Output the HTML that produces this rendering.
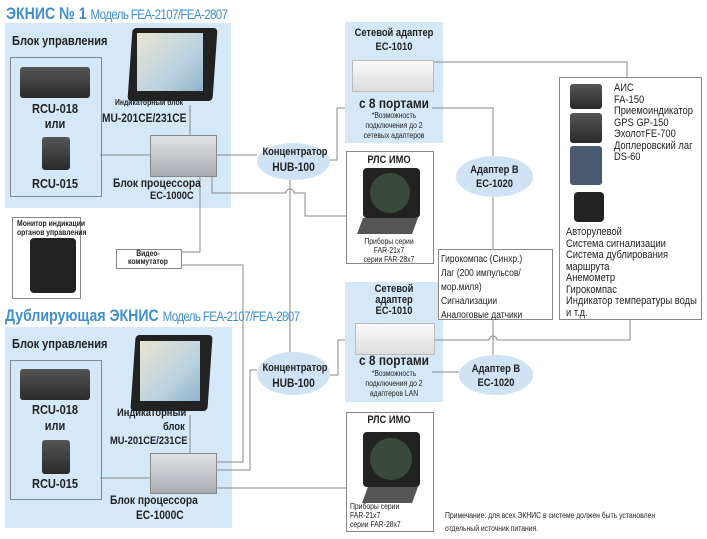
<!DOCTYPE html>
<html><head><meta charset="utf-8"><style>
body{margin:0;width:707px;height:539px;background:#fff;position:relative;overflow:hidden;font-family:"Liberation Sans",sans-serif;color:#222}
.a{position:absolute}
.panel{position:absolute;background:#d5e8f7}
.t{position:absolute;white-space:nowrap;font-size:11px;font-weight:bold;transform:scaleX(.85);transform-origin:left top}
.c{text-align:center;transform-origin:center top}
.s{font-size:8px;font-weight:normal}
.box{position:absolute;border:1px solid #888;background:#fff}
.ell{position:absolute;background:#cfe3f5;border-radius:50%}
.dev{position:absolute;background:linear-gradient(#555,#2a2a2a);border-radius:3px}
.mon{position:absolute;background:#222;border-radius:4px}
.scr{position:absolute;background:linear-gradient(135deg,#e8e4d0,#bcd3e0 60%,#8fb3cc)}
.proc{position:absolute;background:linear-gradient(#e0e2e4,#a9adb2);border:1px solid #888}
.norm{font-weight:normal;font-size:10px;line-height:12px}
.ttl{transform:scaleX(.83)}
.ttl span{font-weight:normal;font-size:14px;letter-spacing:-0.8px}
</style></head><body>
<div class="panel" style="left:5px;top:23px;width:226px;height:185px"></div>
<div class="panel" style="left:5px;top:327px;width:227px;height:201px"></div>
<div class="panel" style="left:345px;top:22px;width:98px;height:121px"></div>
<div class="panel" style="left:345px;top:282px;width:98px;height:120px"></div>

<svg class="a" style="left:0;top:0" width="707" height="539" fill="none" stroke="#8a8a8a" stroke-width="1">
<path d="M100 155H150M190 105V135M215 155H257M330 160H337V108H345M430 62H627V77M432 108H493V156M493 197V249"/>
<path d="M212 175V193H286A4 4 0 0 1 294 193H305V216H346"/>
<path d="M290 180V352"/>
<path d="M180 252H200V175M180 265H243V462H215"/>
<path d="M100 478H150M190 415V453M215 470H250V370H257M330 375H338V340H345M432 372H459M432 340H489A4 4 0 0 1 497 340H630V318M493 318V355M215 488H346"/>
</svg>

<div class="t ttl" style="left:6px;top:4px;font-size:17px;color:#3f8fd0">ЭКНИС № 1 <span>Модель FEA-2107/FEA-2807</span></div>
<div class="t" style="left:12px;top:33px;font-size:13px">Блок управления</div>
<div class="box" style="left:10px;top:57px;width:90px;height:138px;background:none"></div>
<div class="dev" style="left:20px;top:67px;width:70px;height:31px"></div>
<div class="t c" style="left:10px;width:90px;top:101px;font-size:13px">RCU-018</div>
<div class="t c" style="left:10px;width:90px;top:116px;font-size:13px">или</div>
<div class="dev" style="left:42px;top:137px;width:28px;height:33px"></div>
<div class="t c" style="left:10px;width:90px;top:176px;font-size:13px">RCU-015</div>
<div class="mon" style="left:130px;top:28px;width:85px;height:73px;transform:skewX(-4deg)"></div>
<div class="scr" style="left:137px;top:33px;width:66px;height:58px"></div>
<div class="t s" style="left:115px;top:98px;font-weight:bold">Индикаторный блок</div>
<div class="t" style="left:102px;top:111px;font-size:12px">MU-201CE/231CE</div>
<div class="proc" style="left:150px;top:135px;width:65px;height:40px"></div>
<div class="t" style="left:113px;top:176px;font-size:12px">Блок процессора</div>
<div class="t" style="left:150px;top:190px">EC-1000C</div>

<div class="ell" style="left:257px;top:143px;width:73px;height:37px"></div>
<div class="t c" style="left:257px;width:73px;top:146px;font-size:11px">Концентратор</div>
<div class="t c" style="left:257px;width:73px;top:160px;font-size:12px">HUB-100</div>

<div class="t c" style="left:345px;width:98px;top:27px">Сетевой адаптер</div>
<div class="t c" style="left:345px;width:98px;top:41px">EC-1010</div>
<div class="a" style="left:352px;top:60px;width:80px;height:30px;background:linear-gradient(#fafafa,#ddd);border:1px solid #bbb"></div>
<div class="t c" style="left:345px;width:98px;top:95px;font-size:14px">с 8 портами</div>
<div class="t c s" style="left:345px;width:98px;top:111px;line-height:10px;white-space:normal">*Возможность подключения до 2 сетевых адаптеров</div>

<div class="box" style="left:346px;top:151px;width:86px;height:111px"></div>
<div class="t c" style="left:346px;width:86px;top:154px">РЛС ИМО</div>
<div class="mon" style="left:363px;top:168px;width:57px;height:50px"></div>
<div class="a" style="left:370px;top:173px;width:40px;height:40px;border-radius:50%;background:#3a4a3a"></div>
<div class="a" style="left:360px;top:218px;width:55px;height:16px;background:#555;transform:skewX(-20deg)"></div>
<div class="t c s" style="left:346px;width:86px;top:237px;line-height:9px">Приборы серии<br>FAR-21x7<br>серии FAR-28x7</div>

<div class="ell" style="left:456px;top:156px;width:77px;height:41px"></div>
<div class="t c" style="left:456px;width:77px;top:164px">Адаптер B</div>
<div class="t c" style="left:456px;width:77px;top:178px">EC-1020</div>

<div class="box" style="left:438px;top:249px;width:113px;height:69px"></div>
<div class="t norm" style="left:441px;top:253px;line-height:14px">Гирокомпас (Синхр.)<br>Лаг (200 импульсов/<br>мор.миля)<br>Сигнализации<br>Аналоговые датчики</div>

<div class="box" style="left:559px;top:77px;width:141px;height:241px"></div>
<div class="dev" style="left:570px;top:84px;width:32px;height:25px"></div>
<div class="dev" style="left:570px;top:113px;width:32px;height:30px"></div>
<div class="dev" style="left:570px;top:146px;width:32px;height:39px;background:#4a5a70"></div>
<div class="mon" style="left:574px;top:192px;width:30px;height:30px"></div>
<div class="t norm" style="left:614px;top:83px;font-size:11px;line-height:11.5px">АИС<br>FA-150<br>Приемоиндикатор<br>GPS GP-150<br>ЭхолотFE-700<br>Доплеровский лаг<br>DS-60</div>
<div class="t norm" style="left:566px;top:227px;font-size:11px;line-height:11.5px">Авторулевой<br>Система сигнализации<br>Система дублирования<br>маршрута<br>Анемометр<br>Гирокомпас<br>Индикатор температуры воды<br>и т.д.</div>

<div class="box" style="left:12px;top:217px;width:67px;height:80px"></div>
<div class="t c s" style="left:12px;width:67px;top:219px;font-weight:bold;line-height:9px">Монитор индикации<br>органов управления</div>
<div class="mon" style="left:30px;top:238px;width:46px;height:55px"></div>
<div class="box" style="left:116px;top:249px;width:64px;height:18px"></div>
<div class="t c s" style="left:116px;width:64px;top:250px;font-weight:bold;line-height:8px">Видео-<br>коммутатор</div>

<div class="t ttl" style="left:5px;top:306px;font-size:17px;color:#3f8fd0">Дублирующая ЭКНИС <span>Модель FEA-2107/FEA-2807</span></div>
<div class="t" style="left:12px;top:336px;font-size:13px">Блок управления</div>
<div class="box" style="left:10px;top:360px;width:90px;height:138px;background:none"></div>
<div class="dev" style="left:20px;top:369px;width:70px;height:31px"></div>
<div class="t c" style="left:10px;width:90px;top:402px;font-size:13px">RCU-018</div>
<div class="t c" style="left:10px;width:90px;top:418px;font-size:13px">или</div>
<div class="dev" style="left:42px;top:440px;width:28px;height:34px"></div>
<div class="t c" style="left:10px;width:90px;top:476px;font-size:13px">RCU-015</div>
<div class="mon" style="left:133px;top:335px;width:77px;height:76px;transform:skewX(-4deg)"></div>
<div class="scr" style="left:140px;top:341px;width:60px;height:60px"></div>
<div class="t" style="left:117px;top:407px">Индикаторный</div>
<div class="t" style="left:163px;top:421px">блок</div>
<div class="t" style="left:110px;top:435px">MU-201CE/231CE</div>
<div class="proc" style="left:150px;top:453px;width:65px;height:39px"></div>
<div class="t" style="left:110px;top:493px;font-size:12px">Блок процессора</div>
<div class="t" style="left:136px;top:508px;font-size:12px">EC-1000C</div>

<div class="ell" style="left:257px;top:352px;width:73px;height:43px"></div>
<div class="t c" style="left:257px;width:73px;top:362px">Концентратор</div>
<div class="t c" style="left:257px;width:73px;top:376px;font-size:12px">HUB-100</div>

<div class="t c" style="left:345px;width:98px;top:284px;line-height:11px">Сетевой<br>адаптер<br>EC-1010</div>
<div class="a" style="left:355px;top:323px;width:78px;height:30px;background:linear-gradient(#fafafa,#ddd);border:1px solid #bbb"></div>
<div class="t c" style="left:345px;width:98px;top:352px;font-size:14px">с 8 портами</div>
<div class="t c s" style="left:345px;width:98px;top:369px;line-height:10px;white-space:normal">*Возможность подключения до 2 адаптеров LAN</div>

<div class="ell" style="left:459px;top:355px;width:74px;height:40px"></div>
<div class="t c" style="left:459px;width:74px;top:363px">Адаптер B</div>
<div class="t c" style="left:459px;width:74px;top:377px">EC-1020</div>

<div class="box" style="left:346px;top:412px;width:86px;height:118px"></div>
<div class="t c" style="left:346px;width:86px;top:414px">РЛС ИМО</div>
<div class="mon" style="left:363px;top:432px;width:57px;height:55px"></div>
<div class="a" style="left:370px;top:438px;width:42px;height:42px;border-radius:50%;background:#3a4a3a"></div>
<div class="a" style="left:365px;top:487px;width:50px;height:16px;background:#555;transform:skewX(-20deg)"></div>
<div class="t s" style="left:350px;top:502px;line-height:9px">Приборы серии<br>FAR-21x7<br>серии FAR-28x7</div>

<div class="t s" style="left:445px;top:509px;line-height:13px">Примечание: для всех ЭКНИС в системе должен быть установлен<br>отдельный источник питания.</div>
</body></html>
